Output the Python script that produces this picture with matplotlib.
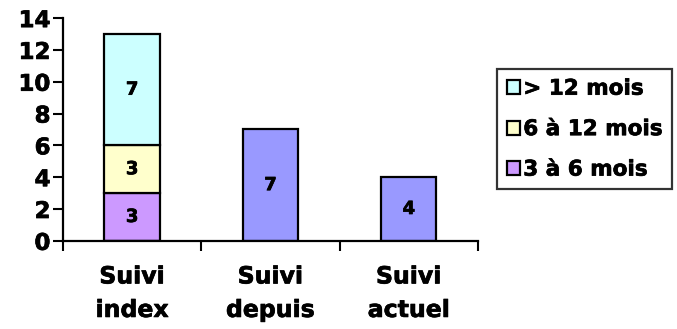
import numpy as np
import matplotlib.pyplot as plt
import matplotlib.patheffects as pe

# données du suivi
categories = ["Suivi\nindex", "Suivi\ndepuis", "Suivi\nactuel"]
plus_12 = [7, 0, 0]        # > 12 mois
de_6_12 = [3, 0, 0]        # 6 à 12 mois
de_3_6 = [3, 0, 0]         # 3 à 6 mois
total = [0, 7, 4]          # barres simples (sans légende)

c_plus_12 = "#CCFFFF"
c_6_12 = "#FFFFCC"
c_3_6 = "#CC99FF"
c_total = "#9999FF"

plt.rcParams["font.family"] = ["DejaVu Sans"]
plt.rcParams["font.weight"] = "bold"

# trait un peu plus épais pour les textes
thick = [pe.withStroke(linewidth=0.5, foreground="black")]

fig = plt.figure(figsize=(6.77, 3.29), dpi=100)
ax = fig.add_axes([0.093, 0.268, 0.613, 0.677])

x = np.arange(len(categories))
w = 0.4
kw = dict(width=w, edgecolor="black", linewidth=1.6)

b1 = ax.bar(x, de_3_6, color=c_3_6, label="3 à 6 mois", **kw)
b2 = ax.bar(x, de_6_12, bottom=de_3_6, color=c_6_12, label="6 à 12 mois", **kw)
bot = np.array(de_3_6) + np.array(de_6_12)
b3 = ax.bar(x, plus_12, bottom=bot, color=c_plus_12, label="> 12 mois", **kw)
b4 = ax.bar(x, total, color=c_total, **kw)

# étiquettes de valeurs au centre des segments
def annotate(bars, vals, bottoms):
    for rect, v, b in zip(bars, vals, bottoms):
        if v > 0:
            ax.text(rect.get_x() + rect.get_width() / 2, b + v / 2, str(v),
                    ha="center", va="center", fontsize=13, fontweight="bold",
                    path_effects=thick)

annotate(b1, de_3_6, [0, 0, 0])
annotate(b2, de_6_12, de_3_6)
annotate(b3, plus_12, bot)
annotate(b4, total, [0, 0, 0])

ax.set_xlim(-0.5, 2.5)
ax.set_ylim(0, 14)
ax.set_yticks(range(0, 15, 2))
ax.set_xticks(x)
ax.set_xticklabels(categories, fontsize=17, fontweight="bold", linespacing=1.5)
ax.set_xticks([-0.5, 0.5, 1.5, 2.5], minor=True)
ax.tick_params(axis="x", which="major", length=0, pad=17)
ax.tick_params(axis="x", which="minor", length=7, width=1.5, direction="out")
ax.tick_params(axis="y", length=7, width=1.5, direction="out", labelsize=16.5, pad=2)
for lbl in ax.get_yticklabels() + ax.get_xticklabels():
    lbl.set_fontweight("bold")
    lbl.set_path_effects(thick)

for side in ("top", "right"):
    ax.spines[side].set_visible(False)
for side in ("left", "bottom"):
    ax.spines[side].set_linewidth(1.6)

handles = [b3, b2, b1]
leg = fig.legend(handles, ["> 12 mois", "6 à 12 mois", "3 à 6 mois"],
                 loc="upper left", bbox_to_anchor=(497 / 677, 1 - 69 / 329),
                 frameon=True, fancybox=False, fontsize=15.5,
                 handlelength=0.62, handleheight=0.62, handletextpad=0.15,
                 borderpad=0.45, labelspacing=0.95, borderaxespad=0)
leg.get_frame().set_edgecolor("black")
leg.get_frame().set_linewidth(1.6)
for t in leg.get_texts():
    t.set_fontweight("bold")
    t.set_path_effects(thick)

fig.savefig("out.png", dpi=100)
